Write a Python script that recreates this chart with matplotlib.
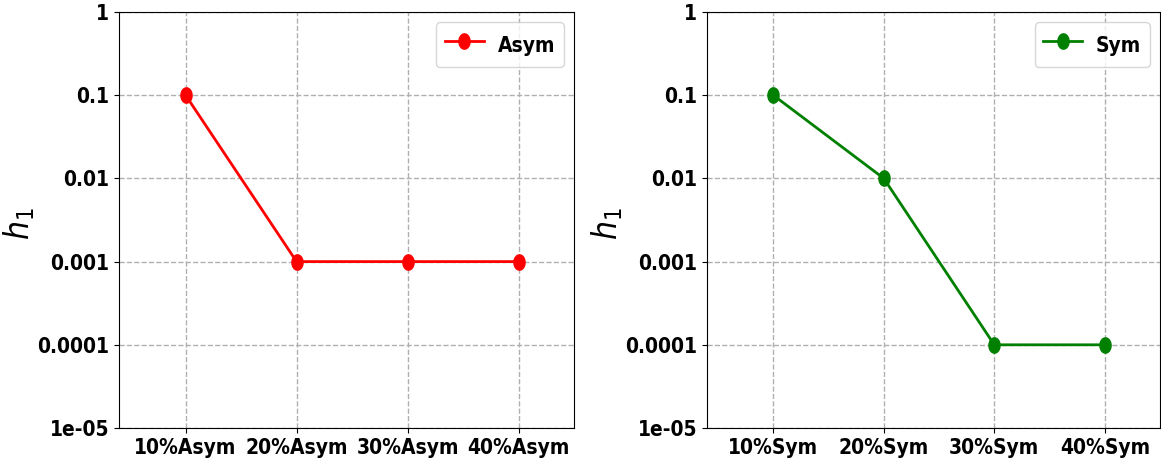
import numpy as np
import matplotlib
matplotlib.use("Agg")
import matplotlib.pyplot as plt
from matplotlib.ticker import FixedLocator, FixedFormatter, NullLocator

asym_labels = ["10%Asym", "20%Asym", "30%Asym", "40%Asym"]
asym_values = [0.1, 0.001, 0.001, 0.001]
sym_labels = ["10%Sym", "20%Sym", "30%Sym", "40%Sym"]
sym_values = [0.1, 0.01, 0.0001, 0.0001]
ytick_values = [1e-5, 1e-4, 1e-3, 1e-2, 1e-1, 1]
ytick_labels = ["1e-05", "0.0001", "0.001", "0.01", "0.1", "1"]

plt.rcParams['font.family'] = ['DejaVu Sans']
plt.rcParams['font.stretch'] = 'condensed'

W, H = 1161, 470
fig = plt.figure(figsize=(W / 100, H / 100), dpi=100)

t = np.linspace(0, 2 * np.pi, 40)
ell = np.column_stack([0.73 * np.cos(t), np.sin(t)])

def panel(rect, labels, values, color, name):
    ax = fig.add_axes(rect)
    x = np.arange(len(labels))
    ax.plot(x, values, color=color, lw=2, marker=ell, ms=11, label=name)
    ax.set_yscale('log')
    ax.set_ylim(1e-5, 1)
    ax.set_xlim(-0.6, len(labels) - 0.5)
    ax.yaxis.set_major_locator(FixedLocator(ytick_values))
    ax.yaxis.set_major_formatter(FixedFormatter(ytick_labels))
    ax.yaxis.set_minor_locator(NullLocator())
    ax.set_xticks(x)
    ax.set_xticklabels(labels)
    for lab in ax.get_xticklabels() + ax.get_yticklabels():
        lab.set_fontweight('bold')
        lab.set_fontsize(15)
    ax.grid(True, ls='--', color='#b0b0b0', lw=1)
    ax.set_ylabel(r'$h_1$', fontsize=24)
    ax.yaxis.set_label_coords(-0.18, 0.49)
    ax.legend(loc='upper right', prop={'weight': 'bold', 'size': 15},
              handleheight=1.7, handlelength=1.9, handletextpad=0.65)
    return ax

ax1 = panel([119 / W, 42 / H, 455 / W, 416 / H], asym_labels, asym_values, 'red', 'Asym')
ax2 = panel([707 / W, 42 / H, 453 / W, 416 / H], sym_labels, sym_values, 'green', 'Sym')

fig.savefig("out.png", dpi=100)
